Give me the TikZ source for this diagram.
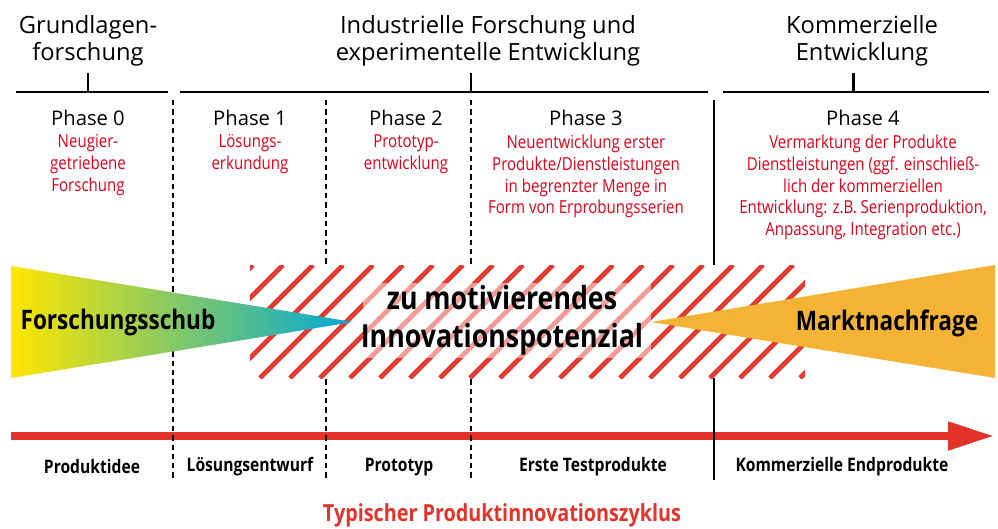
\documentclass[tikz,border=0pt]{standalone}
\usepackage{fontspec}
\setmainfont{Open Sans}
\newfontfamily\condfont[FakeStretch=0.84]{Open Sans}
\usetikzlibrary{positioning,arrows.meta}

\definecolor{phasered}{HTML}{E2001A}
\definecolor{arrowred}{HTML}{E4332B}
\definecolor{hatchred}{HTML}{E53A2F}
\definecolor{pushyellow}{HTML}{FFE600}
\definecolor{pushgreen}{HTML}{A8CF8A}
\definecolor{pushcyan}{HTML}{00A8D6}
\definecolor{pullorange}{HTML}{F5B335}

\tikzset{
	heading/.style={align=center, inner sep=0pt, font=\fontsize{13.5}{15.5}\selectfont},
	bracket/.style={line width=1.7pt},
	phasetitle/.style={inner sep=0pt, font=\fontsize{11.5}{13}\selectfont},
	phasetext/.style={align=center, inner sep=0pt, text=phasered, font=\condfont\fontsize{10.2}{12.5}\selectfont},
	divider/.style={line width=0.8pt, dash pattern=on 3pt off 2.3pt},
	stripe/.style={hatchred, line width=2.8pt},
	bigbold/.style={inner sep=0pt, font=\condfont\bfseries\fontsize{15.3}{17}\selectfont},
	outcome/.style={inner sep=0pt, font=\condfont\bfseries\fontsize{10.6}{12}\selectfont}
}

\begin{document}
\begin{tikzpicture}[x=0.02cm, y=-0.02cm]
		%%%%% START %%%%%
		\useasboundingbox (0,0) rectangle (998,528);
		
		%%%%% headings and brackets
		\node[heading] (grund) at (88,41) {Grundlagen-\\forschung};
		\node[heading] (indu) at (488,41) {Industrielle Forschung und\\experimentelle Entwicklung};
		\node[heading] (komm) at (862,41) {Kommerzielle\\Entwicklung};
		
		\draw[bracket] (16,92) -- (168,92);
		\draw[bracket] (88,92) -- (88,73);
		\draw[bracket] (180,92) -- (708,92);
		\draw[bracket] (471,92) -- (471,73);
		\draw[bracket] (723,92) -- (989,92);
		\draw[bracket] (853,92) -- (853,73);
		
		%%%%% phases
		\node[phasetitle] (ph0) at (88,118) {Phase 0};
		\node[phasetitle] (ph1) at (250,118) {Phase 1};
		\node[phasetitle] (ph2) at (406,118) {Phase 2};
		\node[phasetitle] (ph3) at (586,118) {Phase 3};
		\node[phasetitle] (ph4) at (863,118) {Phase 4};
		
		\node[phasetext, below=0.16cm of ph0] (desc0) {Neugier-\\getriebene\\Forschung};
		\node[phasetext, below=0.16cm of ph1] (desc1) {Lösungs-\\erkundung};
		\node[phasetext, below=0.16cm of ph2] (desc2) {Prototyp-\\entwicklung};
		\node[phasetext, below=0.16cm of ph3] (desc3) {Neuentwicklung erster\\Produkte/Dienstleistungen\\in begrenzter Menge in\\Form von Erprobungsserien};
		\node[phasetext, below=0.16cm of ph4] (desc4) {Vermarktung der Produkte\\Dienstleistungen (ggf. einschließ-\\lich der kommerziellen\\Entwicklung: z.B. Serienproduktion,\\Anpassung, Integration etc.)};
		
		%%%%% time arrow
		\coordinate (arrowstart) at (11,436);
		\coordinate (arrowend) at (994,436);
		\draw[arrowred, line width=4.5pt, -{Triangle[length=0.92cm, width=0.54cm]}] (arrowstart) -- (arrowend);
		
		%%%%% dividers
		\foreach \x in {173,326,471}
			\draw[divider] (\x,100) -- (\x,480);
		\draw[line width=1.1pt] (714,100) -- (714,480);
		
		%%%%% hatched field
		\begin{scope}
			\clip (250,265) rectangle (805,378);
			\fill[white] (250,265) rectangle (805,378);
			\foreach \x in {253,283,...,943}
				\draw[stripe] (\x,265) -- ++(-113,113);
			\fill[white, opacity=0.5] (363,283) rectangle (651,358);
		\end{scope}
		
		%%%%% push and pull
		\shade[left color=pushyellow, middle color=pushgreen, right color=pushcyan] (11,266) -- (353,322) -- (11,378) -- cycle;
		\fill[pullorange] (995,265) -- (651,322) -- (995,378) -- cycle;
		
		\node[bigbold] (push) at (118,323) {Forschungsschub};
		\node[bigbold] (pull) at (887,323) {Marktnachfrage};
		\node[bigbold, align=center, font=\condfont\bfseries\fontsize{18.1}{21.5}\selectfont] (potential) at (502,320) {zu motivierendes\\Innovationspotenzial};
		
		%%%%% outcomes
		\node[outcome] (out0) at (92,467) {Produktidee};
		\node[outcome] (out1) at (250,467) {Lösungsentwurf};
		\node[outcome] (out2) at (399,467) {Prototyp};
		\node[outcome] (out3) at (593,467) {Erste Testprodukte};
		\node[outcome] (out4) at (842,467) {Kommerzielle Endprodukte};
		
		\node[outcome, text=arrowred, font=\condfont\bfseries\fontsize{13.4}{15}\selectfont] (cycle) at (502,515) {Typischer Produktinnovationszyklus};
		%%%%% END %%%%%
\end{tikzpicture}
\end{document}
